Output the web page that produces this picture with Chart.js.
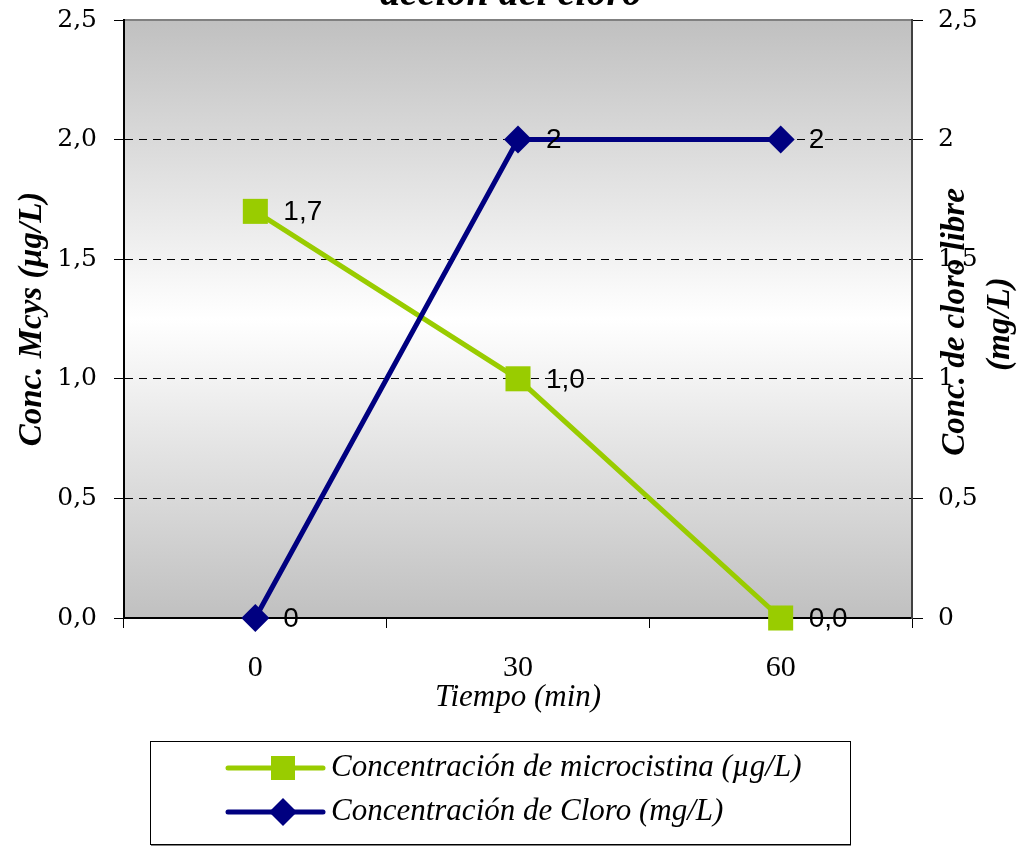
<!DOCTYPE html>
<html>
<head>
<meta charset="utf-8">
<script src="https://cdn.jsdelivr.net/npm/chart.js@4"></script>
<style>
  html, body { margin: 0; padding: 0; background: #fff; }
  #wrap { width: 1017px; height: 846px; }
</style>
</head>
<body>
<div id="wrap"><canvas id="chart" width="1017" height="846"></canvas></div>
<script>
const categories = ["0", "30", "60"];
const mcysValues = [1.7, 1.0, 0.0];
const cloroValues = [0, 2, 2];
const mcysLabels = ["1,7", "1,0", "0,0"];
const cloroLabels = ["0", "2", "2"];
const leftTicks = ["0,0", "0,5", "1,0", "1,5", "2,0", "2,5"];
const rightTicks = ["0", "0,5", "1", "1,5", "2", "2,5"];

const GREEN = "#99CC00";
const NAVY = "#000080";
const SERIF = "'Liberation Serif', 'DejaVu Serif', serif";
const SANS = "'Liberation Sans', Arial, sans-serif";

// gradient behind the plot: gray at the edges, white in the middle
const backgroundPlugin = {
  id: "plotBackground",
  beforeDraw(chart) {
    const { ctx, chartArea: a } = chart;
    const g = ctx.createLinearGradient(0, a.top, 0, a.bottom);
    g.addColorStop(0, "#c0c0c0");
    g.addColorStop(0.5, "#ffffff");
    g.addColorStop(1, "#c0c0c0");
    ctx.save();
    ctx.fillStyle = g;
    ctx.fillRect(a.left, a.top, a.right - a.left, a.bottom - a.top);
    ctx.strokeStyle = "#808080";
    ctx.lineWidth = 2;
    ctx.beginPath();
    ctx.moveTo(a.left, a.top);
    ctx.lineTo(a.right, a.top);
    ctx.stroke();
    ctx.restore();
  },
};

const dataLabelPlugin = {
  id: "dataLabels",
  afterDatasetsDraw(chart) {
    const { ctx } = chart;
    const texts = [mcysLabels, cloroLabels];
    ctx.save();
    ctx.font = "28px " + SANS;
    ctx.fillStyle = "#000";
    ctx.textAlign = "left";
    ctx.textBaseline = "middle";
    chart.data.datasets.forEach((ds, i) => {
      chart.getDatasetMeta(i).data.forEach((pt, j) => {
        ctx.fillText(texts[i][j], pt.x + 28, pt.y + 1);
      });
    });
    ctx.restore();
  },
};

function drawMarker(ctx, style, x, y, color) {
  ctx.fillStyle = color;
  ctx.beginPath();
  if (style === "rect") {
    ctx.rect(x - 12, y - 12, 24, 24);
  } else {
    ctx.moveTo(x, y - 14);
    ctx.lineTo(x + 14, y);
    ctx.lineTo(x, y + 14);
    ctx.lineTo(x - 14, y);
    ctx.closePath();
  }
  ctx.fill();
}

const extrasPlugin = {
  id: "extras",
  afterDraw(chart) {
    const { ctx } = chart;
    ctx.save();

    // chart title (mostly above the canvas)
    ctx.font = "italic bold 40px " + SERIF;
    ctx.fillStyle = "#000";
    ctx.textAlign = "center";
    ctx.textBaseline = "alphabetic";
    ctx.fillText("acción del cloro", 511, 5);

    // right axis title, reading bottom to top
    ctx.font = "italic bold 33px " + SERIF;
    ctx.textBaseline = "middle";
    ctx.save();
    ctx.translate(955, 322);
    ctx.rotate(-Math.PI / 2);
    ctx.fillText("Conc. de cloro libre", 0, 0);
    ctx.restore();
    ctx.save();
    ctx.translate(1000, 324);
    ctx.rotate(-Math.PI / 2);
    ctx.fillText("(mg/L)", 0, 0);
    ctx.restore();

    // legend box
    ctx.strokeStyle = "#000";
    ctx.lineWidth = 1;
    ctx.strokeRect(150.5, 741.5, 700, 103);
    ctx.strokeStyle = "#808080";
    ctx.beginPath();
    ctx.moveTo(151, 845.5);
    ctx.lineTo(851, 845.5);
    ctx.stroke();

    const rows = [768, 812];
    chart.data.datasets.forEach((ds, i) => {
      const y = rows[i];
      ctx.strokeStyle = ds.borderColor;
      ctx.lineWidth = 5;
      ctx.lineCap = "round";
      ctx.beginPath();
      ctx.moveTo(228, y);
      ctx.lineTo(323, y);
      ctx.stroke();
      drawMarker(ctx, ds.pointStyle, 283, y, ds.borderColor);
      ctx.fillStyle = "#000";
      ctx.font = "italic 31px " + SERIF;
      ctx.textAlign = "left";
      ctx.textBaseline = "middle";
      ctx.fillText(ds.label, 331, y);
    });
    ctx.restore();
  },
};

// keep the y tick labels from pushing the plot area down
function fitY(width) {
  return (s) => {
    s.width = width;
    s.paddingTop = 0;
    s.paddingBottom = 0;
  };
}

new Chart(document.getElementById("chart"), {
  type: "line",
  data: {
    labels: categories,
    datasets: [
      {
        label: "Concentración de microcistina (µg/L)",
        data: mcysValues,
        borderColor: GREEN,
        backgroundColor: GREEN,
        borderWidth: 5,
        pointStyle: "rect",
        pointRadius: 17.7,
        pointBorderWidth: 0,
        pointHoverRadius: 17.7,
        yAxisID: "y",
        order: 1,
        clip: false,
      },
      {
        label: "Concentración de Cloro (mg/L)",
        data: cloroValues,
        borderColor: NAVY,
        backgroundColor: NAVY,
        borderWidth: 5,
        pointStyle: "rectRot",
        pointRadius: 14,
        pointBorderWidth: 0,
        pointHoverRadius: 14,
        yAxisID: "y2",
        order: 0,
        clip: false,
      },
    ],
  },
  options: {
    responsive: false,
    animation: false,
    layout: { padding: { top: 20, bottom: 128, left: 0, right: 0 } },
    plugins: {
      legend: { display: false },
      tooltip: { enabled: false },
    },
    scales: {
      x: {
        offset: true,
        afterFit: (s) => { s.height = 100; },
        grid: {
          offset: true,
          drawOnChartArea: false,
          tickLength: 10,
          tickColor: "#000",
          tickWidth: 1,
        },
        border: { color: "#000", width: 2 },
        ticks: {
          color: "#000",
          padding: 22,
          font: { family: SERIF, size: 30 },
        },
        title: {
          display: true,
          text: "Tiempo (min)",
          color: "#000",
          padding: { top: 0, bottom: 2 },
          font: { family: SERIF, size: 31, style: "italic" },
        },
      },
      y: {
        position: "left",
        min: 0,
        max: 2.5,
        afterFit: fitY(124),
        afterBuildTicks: (s) => {
          s.ticks = [0, 0.5, 1, 1.5, 2, 2.5].map((v) => ({ value: v }));
        },
        grid: {
          color: (c) => (c.tick && c.tick.value > 0 && c.tick.value < 2.5 ? "#000" : "rgba(0,0,0,0)"),
          lineWidth: 1,
          tickLength: 10,
          tickColor: "#000",
          tickWidth: 1,
          tickBorderDash: [],
        },
        border: { color: "#000", width: 2, dash: [8, 6] },
        ticks: {
          color: "#000",
          padding: 17,
          font: { family: "'DejaVu Serif', serif", size: 25 },
          callback: (v, i) => leftTicks[i],
        },
        title: {
          display: true,
          text: "Conc. Mcys (µg/L)",
          color: "#000",
          padding: { top: 13, bottom: 0 },
          font: { family: SERIF, size: 33, style: "italic", weight: "bold" },
        },
      },
      y2: {
        position: "right",
        min: 0,
        max: 2.5,
        afterFit: fitY(105),
        afterBuildTicks: (s) => {
          s.ticks = [0, 0.5, 1, 1.5, 2, 2.5].map((v) => ({ value: v }));
        },
        grid: {
          drawOnChartArea: false,
          tickLength: 11,
          tickColor: "#000",
          tickWidth: 1,
        },
        border: { color: "#404040", width: 2 },
        ticks: {
          color: "#000",
          padding: 15,
          font: { family: "'DejaVu Serif', serif", size: 25 },
          callback: (v, i) => rightTicks[i],
        },
      },
    },
  },
  plugins: [backgroundPlugin, dataLabelPlugin, extrasPlugin],
});
</script>
</body>
</html>
